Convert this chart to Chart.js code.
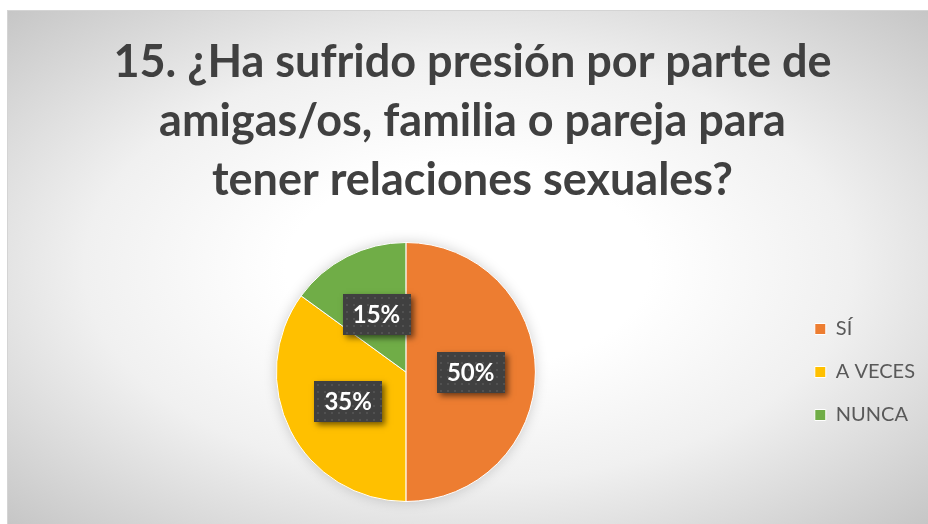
<!DOCTYPE html>
<html>
<head>
<meta charset="utf-8">
<script src="https://cdn.jsdelivr.net/npm/chart.js@4/dist/chart.umd.min.js"></script>
<style>
  html, body { margin: 0; padding: 0; background: #ffffff; overflow: hidden; width: 928px; height: 524px; }
  #frame {
    position: absolute; left: 7px; top: 10px; width: 920px; height: 513px;
    border: 1px solid #d4d4d4; overflow: hidden;
    background: radial-gradient(ellipse farthest-corner at 50% 50%, #ffffff 0%, #ffffff 28%, #f0f0f0 59%, #c6c6c6 100%);
  }
  canvas { display: block; position: absolute; left: 12px; top: 0; }
</style>
</head>
<body>
<div id="frame"><canvas id="c" width="920" height="513"></canvas></div>
<script>
const TITLE_LINES = ["15. ¿Ha sufrido presión por parte de", "amigas/os, familia o pareja para", "tener relaciones sexuales?"];
const CATEGORIES = ["SÍ", "A VECES", "NUNCA"];
const VALUES = [50, 35, 15];
const COLORS = ["#ED7D31", "#FFC000", "#70AD47"];

const FONT = "Lato, Carlito, Calibri, 'Open Sans', sans-serif";

const pieShadow = {
  id: 'pieShadow',
  beforeDatasetsDraw(chart) {
    const arc = chart.getDatasetMeta(0).data[0];
    if (!arc) return;
    const ctx = chart.ctx;
    ctx.save();
    ctx.shadowColor = 'rgba(0,0,0,0.22)';
    ctx.shadowBlur = 14;
    ctx.fillStyle = '#ffffff';
    ctx.beginPath();
    ctx.arc(arc.x, arc.y, arc.outerRadius - 1, 0, Math.PI * 2);
    ctx.fill();
    ctx.restore();
  }
};

const boxLabels = {
  id: 'boxLabels',
  afterDatasetsDraw(chart) {
    const ctx = chart.ctx;
    const meta = chart.getDatasetMeta(0);
    const ds = chart.data.datasets[0];
    meta.data.forEach((arc, i) => {
      const p = arc.tooltipPosition();
      const text = ds.data[i] + '%';
      ctx.save();
      ctx.font = "bold 24px " + FONT;
      const tw = ctx.measureText(text).width;
      const w = Math.round(tw + 20), h = 41;
      const x = Math.round(p.x - w / 2), y = Math.round(p.y - h / 2);
      ctx.shadowColor = 'rgba(0,0,0,0.55)';
      ctx.shadowBlur = 6;
      ctx.shadowOffsetX = 3;
      ctx.shadowOffsetY = 3;
      ctx.fillStyle = '#404040';
      ctx.fillRect(x, y, w, h);
      ctx.shadowColor = 'transparent';
      ctx.fillStyle = 'rgba(255,255,255,0.09)';
      for (let yy = y + 3; yy < y + h; yy += 7) {
        for (let xx = x + 3; xx < x + w; xx += 7) {
          ctx.fillRect(xx, yy, 2, 2);
        }
      }
      ctx.fillStyle = '#ffffff';
      ctx.textAlign = 'center';
      ctx.textBaseline = 'middle';
      ctx.fillText(text, p.x, p.y + 1);
      ctx.restore();
    });
  }
};

new Chart(document.getElementById('c'), {
  type: 'pie',
  data: {
    labels: CATEGORIES,
    datasets: [{
      data: VALUES,
      backgroundColor: COLORS,
      borderColor: '#ffffff',
      borderWidth: 1
    }]
  },
  options: {
    responsive: false,
    animation: false,
    layout: { padding: { top: 0, right: 15, bottom: 22, left: 0 } },
    plugins: {
      tooltip: { enabled: false },
      title: {
        display: true,
        text: TITLE_LINES,
        color: '#404040',
        font: { family: FONT, size: 45, weight: 'bold', lineHeight: 59 / 45 },
        padding: { top: 22, bottom: 32 }
      },
      legend: {
        position: 'right',
        fullSize: false,
        labels: {
          color: '#595959',
          font: { family: FONT, size: 20 },
          boxWidth: 11,
          boxHeight: 11,
          padding: 23
        }
      }
    }
  },
  plugins: [pieShadow, boxLabels]
});
</script>
</body>
</html>
